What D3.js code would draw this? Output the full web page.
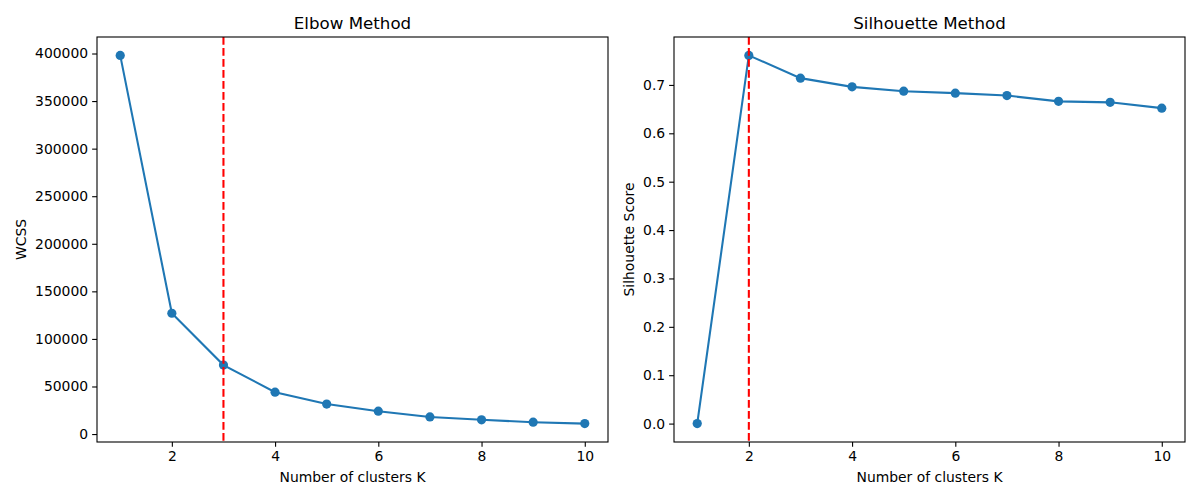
<!DOCTYPE html>
<html><head><meta charset="utf-8">
<script src="https://cdn.jsdelivr.net/npm/d3@7"></script>
<style>body{margin:0;background:#fff}svg{display:block}text{font-family:"DejaVu Sans",sans-serif;fill:#000}</style>
</head><body>
<svg id="c" width="1200" height="500"></svg>
<script>
const kValues = [1,2,3,4,5,6,7,8,9,10];
const wcss = [398000,127000,72500,44000,31500,24000,18000,15000,12500,11000];
const silhouette = [0.0,0.761,0.714,0.696,0.687,0.683,0.678,0.666,0.664,0.652];
const xTicks = [2,4,6,8,10];
const wcssTicks = [0,50000,100000,150000,200000,250000,300000,350000,400000];
const silTicks = [0,0.1,0.2,0.3,0.4,0.5,0.6,0.7];
const elbowK = 3, bestK = 2;

const svg = d3.select("#c");
const blue = "#1f77b4";

function panel(opt){
  const g = svg.append("g");
  const x = d3.scaleLinear().domain([0.55,10.45]).range([opt.x0, opt.x1]);
  const ext = d3.extent(opt.values); const m = (ext[1]-ext[0])*0.05;
  const y = d3.scaleLinear().domain([ext[0]-m, ext[1]+m]).range([opt.y1, opt.y0]);
  const xa = g.append("g").attr("transform",`translate(0,${opt.y1})`)
    .call(d3.axisBottom(x).tickValues(xTicks).tickSize(4.86).tickPadding(4).tickFormat(d3.format("d")));
  const ya = g.append("g").attr("transform",`translate(${opt.x0},0)`)
    .call(d3.axisLeft(y).tickValues(opt.ticks).tickSize(4.86).tickPadding(4).tickFormat(opt.fmt));
  [xa,ya].forEach(a=>{
    a.select(".domain").remove();
    a.selectAll("line").attr("stroke","#000").attr("stroke-width",1.1);
    a.selectAll("text").attr("font-size","13.9px").attr("font-family","DejaVu Sans").attr("fill","#000");
  });
  g.append("path").datum(kValues.map((k,i)=>[k,opt.values[i]]))
    .attr("d", d3.line().x(d=>x(d[0])).y(d=>y(d[1])))
    .attr("fill","none").attr("stroke",blue).attr("stroke-width",2.08);
  g.selectAll("circle.pt").data(kValues.map((k,i)=>[k,opt.values[i]])).join("circle")
    .attr("cx",d=>x(d[0])).attr("cy",d=>y(d[1])).attr("r",4.6).attr("fill",blue);
  g.append("line").attr("x1",x(opt.vline)).attr("x2",x(opt.vline)).attr("y1",opt.y0).attr("y2",opt.y1)
    .attr("stroke","red").attr("stroke-width",2.08).attr("stroke-dasharray","7.7,3.3");
  g.append("rect").attr("x",opt.x0).attr("y",opt.y0).attr("width",opt.x1-opt.x0).attr("height",opt.y1-opt.y0)
    .attr("fill","none").attr("stroke","#000").attr("stroke-width",1.1);
  g.append("text").attr("x",(opt.x0+opt.x1)/2).attr("y",opt.y0-8.5).attr("text-anchor","middle")
    .attr("font-size","16.67px").text(opt.title);
  g.append("text").attr("x",(opt.x0+opt.x1)/2).attr("y",482).attr("text-anchor","middle")
    .attr("font-size","13.9px").text("Number of clusters K");
  g.append("text").attr("transform",`translate(${opt.ylx},${(opt.y0+opt.y1)/2}) rotate(-90)`)
    .attr("text-anchor","middle").attr("font-size","13.9px").text(opt.ylabel);
}

panel({x0:97,x1:608,y0:37,y1:442,values:wcss,ticks:wcssTicks,fmt:d3.format("d"),
  vline:elbowK,title:"Elbow Method",ylabel:"WCSS",ylx:26});
panel({x0:674,x1:1185,y0:37,y1:442,values:silhouette,ticks:silTicks,fmt:d3.format(".1f"),
  vline:bestK,title:"Silhouette Method",ylabel:"Silhouette Score",ylx:634});
</script>
</body></html>
